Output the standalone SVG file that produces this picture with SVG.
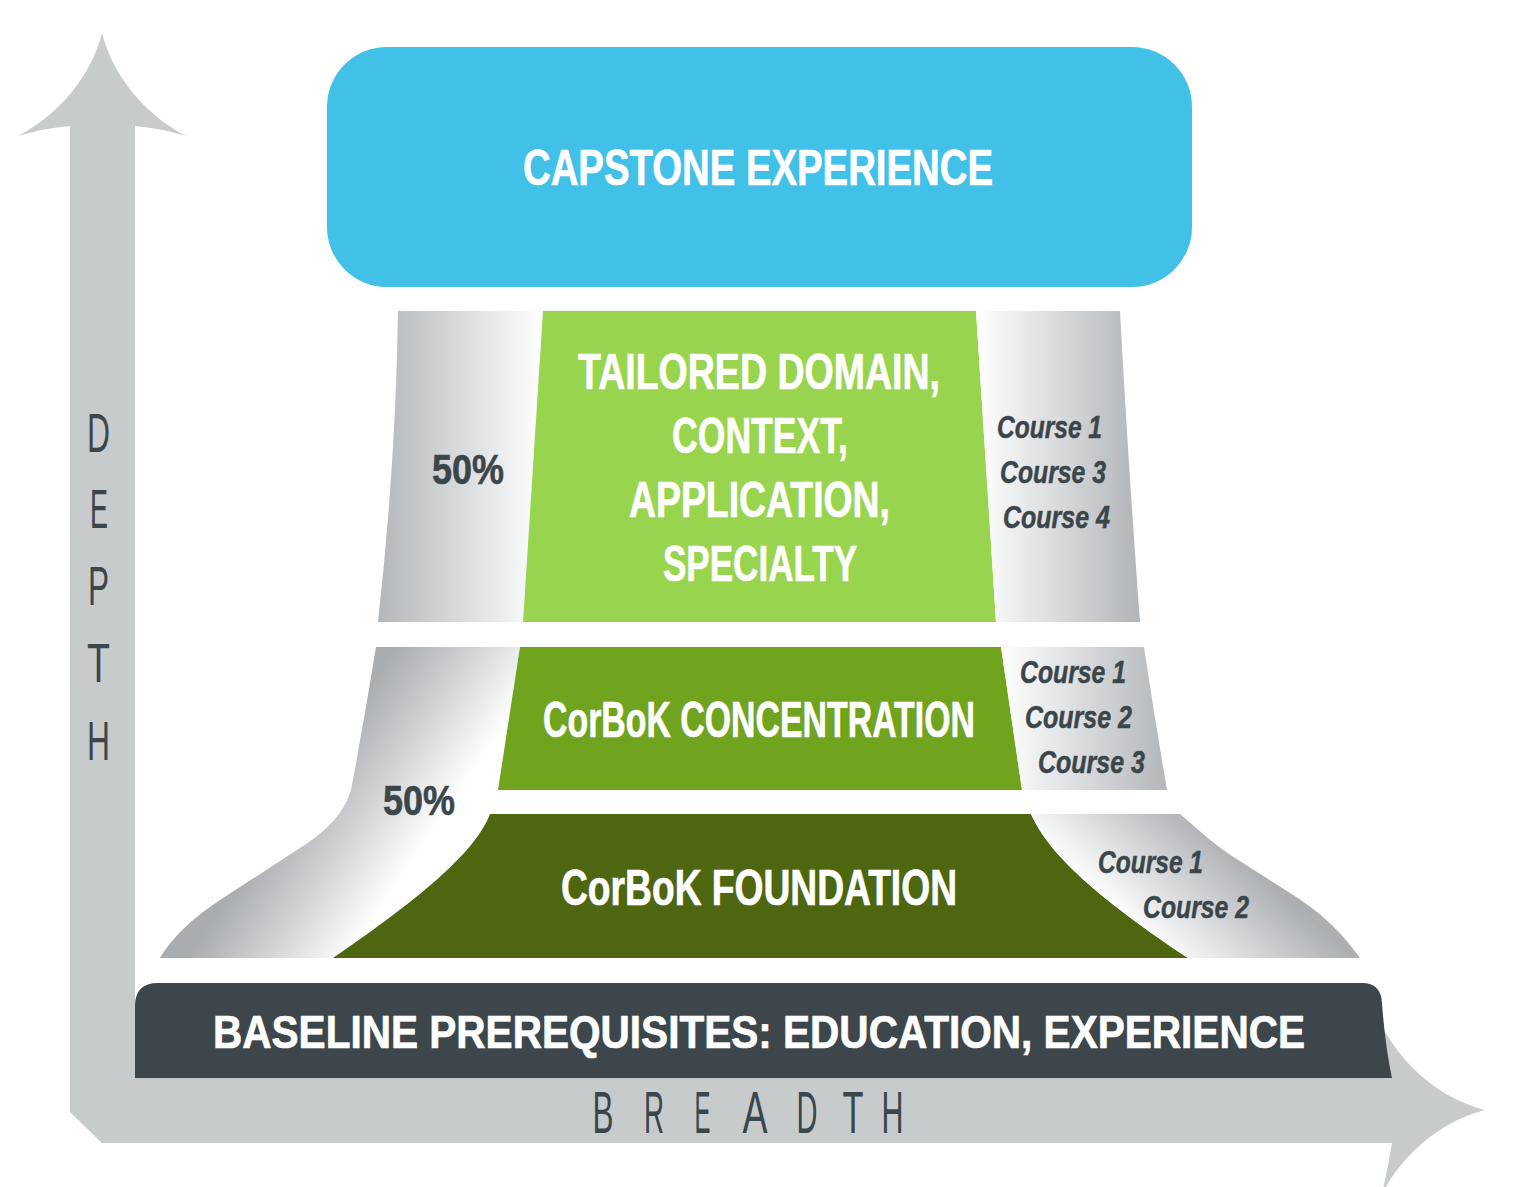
<svg xmlns="http://www.w3.org/2000/svg" width="1515" height="1187" viewBox="0 0 1515 1187">
<defs>
<linearGradient id="gL1" x1="0" y1="0" x2="1" y2="0">
<stop offset="0" stop-color="#b4b7ba"/><stop offset="0.55" stop-color="#dcdedf"/><stop offset="1" stop-color="#ffffff"/>
</linearGradient>
<linearGradient id="gR1" x1="0" y1="0" x2="1" y2="0">
<stop offset="0" stop-color="#ffffff"/><stop offset="0.45" stop-color="#dcdedf"/><stop offset="1" stop-color="#b2b5b8"/>
</linearGradient>
<linearGradient id="gR2" x1="0" y1="0" x2="1" y2="0">
<stop offset="0" stop-color="#ffffff"/><stop offset="0.5" stop-color="#d8dadc"/><stop offset="1" stop-color="#b4b7ba"/>
</linearGradient>
<linearGradient id="gL23" gradientUnits="userSpaceOnUse" x1="300" y1="790" x2="412" y2="865">
<stop offset="0" stop-color="#aaadb0"/><stop offset="0.5" stop-color="#d2d4d6"/><stop offset="1" stop-color="#ffffff"/>
</linearGradient>
<linearGradient id="gR3" gradientUnits="userSpaceOnUse" x1="1080" y1="880" x2="1166" y2="786">
<stop offset="0" stop-color="#ffffff"/><stop offset="0.5" stop-color="#d4d6d8"/><stop offset="1" stop-color="#acafb2"/>
</linearGradient>
</defs>
<style>
.hd{font-family:"Liberation Sans Narrow","Liberation Sans",Arial,sans-serif;font-weight:bold;fill:#ffffff;stroke:#ffffff;stroke-width:0.7px;text-anchor:middle}
.cs{font-family:"Liberation Sans Narrow","Liberation Sans",Arial,sans-serif;font-weight:bold;font-style:italic;fill:#3b464b;stroke:#3b464b;stroke-width:0.5px;font-size:31px}
.pc{font-family:"Liberation Sans Narrow","Liberation Sans",Arial,sans-serif;font-weight:bold;fill:#3b464b;stroke:#3b464b;stroke-width:0.6px;font-size:42px}
.ax{font-family:"Liberation Sans Narrow","Liberation Sans",Arial,sans-serif;font-weight:normal;fill:#3b464b;text-anchor:middle}
</style>
<rect width="1515" height="1187" fill="#ffffff"/>
<g id="axes">
<path d="M102,33 C112,73 142,113 186,136 Q160,128 135,126 L135,1077 L1392,1077 Q1384,1051 1382,1026 C1405,1070 1445,1100 1485,1110 C1445,1120 1405,1150 1382,1194 Q1388,1168 1392,1143 L102,1143 L70,1112 L70,126 Q44,128 18,136 C62,113 92,73 102,33 Z" fill="#c8cbcc"/>
<g class="ax" font-size="56">
<text x="98.5" y="452" textLength="23" lengthAdjust="spacingAndGlyphs">D</text>
<text x="99" y="528" textLength="18" lengthAdjust="spacingAndGlyphs">E</text>
<text x="98.5" y="605" textLength="21" lengthAdjust="spacingAndGlyphs">P</text>
<text x="98.5" y="682" textLength="23" lengthAdjust="spacingAndGlyphs">T</text>
<text x="98.5" y="760" textLength="23" lengthAdjust="spacingAndGlyphs">H</text>
</g>
<g class="ax" font-size="60">
<text x="603" y="1133" textLength="21" lengthAdjust="spacingAndGlyphs">B</text>
<text x="654" y="1133" textLength="20" lengthAdjust="spacingAndGlyphs">R</text>
<text x="702.5" y="1133" textLength="16" lengthAdjust="spacingAndGlyphs">E</text>
<text x="755" y="1133" textLength="25" lengthAdjust="spacingAndGlyphs">A</text>
<text x="807" y="1133" textLength="21" lengthAdjust="spacingAndGlyphs">D</text>
<text x="853" y="1133" textLength="21" lengthAdjust="spacingAndGlyphs">T</text>
<text x="892.5" y="1133" textLength="22" lengthAdjust="spacingAndGlyphs">H</text>
</g>
</g>
<g id="baseline">
<path d="M135,1006 Q135,983 158,983 L1362,983 Q1381,983 1382,1003 Q1385,1045 1392,1078 L135,1078 Z" fill="#3c464b"/>
<text class="hd" x="759" y="1048" font-size="46" textLength="1092" lengthAdjust="spacingAndGlyphs">BASELINE PREREQUISITES: EDUCATION, EXPERIENCE</text>
</g>
<g id="capstone">
<rect x="327" y="47" width="865" height="240" rx="60" ry="60" fill="#41c0e8"/>
<text class="hd" x="758" y="185" font-size="50" textLength="470" lengthAdjust="spacingAndGlyphs">CAPSTONE EXPERIENCE</text>
</g>
<g id="tier1-left">
<path d="M398,311 L543,311 L523,622 L378,622 Q396,460 398,311 Z" fill="url(#gL1)"/>
<text class="pc" x="468" y="484" text-anchor="middle" textLength="72" lengthAdjust="spacingAndGlyphs">50%</text>
</g>
<g id="tier1">
<path d="M543,311 L976,311 L996,622 L523,622 Z" fill="#98d44e"/>
<text class="hd" x="759" y="389" font-size="50" textLength="362" lengthAdjust="spacingAndGlyphs">TAILORED DOMAIN,</text>
<text class="hd" x="760" y="453" font-size="50" textLength="176" lengthAdjust="spacingAndGlyphs">CONTEXT,</text>
<text class="hd" x="759.5" y="517" font-size="50" textLength="261" lengthAdjust="spacingAndGlyphs">APPLICATION,</text>
<text class="hd" x="760" y="581" font-size="50" textLength="194" lengthAdjust="spacingAndGlyphs">SPECIALTY</text>
</g>
<g id="tier1-right">
<path d="M976,311 L1120,311 Q1128,460 1140,622 L996,622 Z" fill="url(#gR1)"/>
<text class="cs" x="997" y="438" textLength="105" lengthAdjust="spacingAndGlyphs">Course 1</text>
<text class="cs" x="1000" y="483" textLength="106" lengthAdjust="spacingAndGlyphs">Course 3</text>
<text class="cs" x="1003" y="528" textLength="107" lengthAdjust="spacingAndGlyphs">Course 4</text>
</g>
<g id="tier23-left">
<path d="M376,647 L520,647 L498,790 L490,814 C478,845 440,885 333,958 L160,958 C172,938 190,920 220,900 L300,848 C335,826 348,805 352,785 Q365,715 376,647 Z" fill="url(#gL23)"/>
<text class="pc" x="419" y="815" text-anchor="middle" textLength="72" lengthAdjust="spacingAndGlyphs">50%</text>
</g>
<g id="tier2">
<path d="M520,647 L1001,647 L1022,790 L498,790 Z" fill="#70a31e"/>
<text class="hd" x="759" y="737" font-size="50" textLength="432" lengthAdjust="spacingAndGlyphs">CorBoK CONCENTRATION</text>
</g>
<g id="tier2-right">
<path d="M1001,647 L1144,647 Q1155,720 1167,790 L1022,790 Z" fill="url(#gR2)"/>
<text class="cs" x="1020" y="683" textLength="106" lengthAdjust="spacingAndGlyphs">Course 1</text>
<text class="cs" x="1025" y="728" textLength="107" lengthAdjust="spacingAndGlyphs">Course 2</text>
<text class="cs" x="1038" y="773" textLength="107" lengthAdjust="spacingAndGlyphs">Course 3</text>
</g>
<g id="tier3">
<path d="M490,814 L1031,814 C1045,845 1078,885 1188,958 L333,958 C440,885 478,845 490,814 Z" fill="#4e6610"/>
<text class="hd" x="759" y="905" font-size="50" textLength="396" lengthAdjust="spacingAndGlyphs">CorBoK FOUNDATION</text>
</g>
<g id="tier3-right">
<path d="M1031,814 L1180,814 C1195,826 1210,842 1235,858 L1290,893 C1320,912 1340,930 1360,958 L1188,958 C1078,885 1045,845 1031,814 Z" fill="url(#gR3)"/>
<text class="cs" x="1098" y="873" textLength="105" lengthAdjust="spacingAndGlyphs">Course 1</text>
<text class="cs" x="1143" y="918" textLength="106" lengthAdjust="spacingAndGlyphs">Course 2</text>
</g>
</svg>
